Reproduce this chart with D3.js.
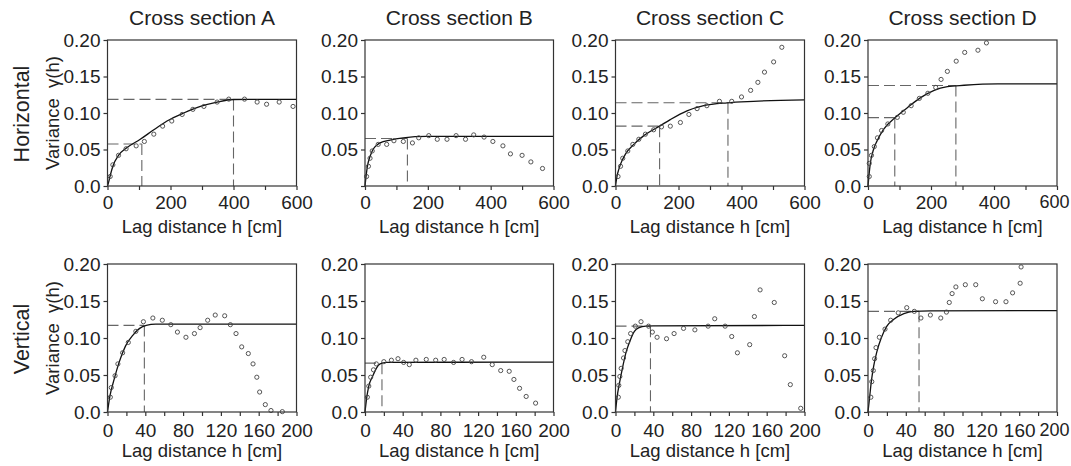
<!DOCTYPE html>
<html><head><meta charset="utf-8">
<script src="https://cdn.jsdelivr.net/npm/d3@7"></script>
<style>
html,body{margin:0;padding:0;background:#fff;}
svg{display:block;font-family:"Liberation Sans",Arial,sans-serif;}
</style></head>
<body>
<svg id="chart" width="1071" height="466"></svg>
<script>
// ---------- DATA ----------
const columnTitles = ["Cross section A","Cross section B","Cross section C","Cross section D"];
const rowLabels = ["Horizontal","Vertical"];
const yAxisTitle = "Variance\u00A0 \u03B3(h)";
const xAxisTitle = "Lag distance h [cm]";

const hTicks = [0,100,200,300,400,500,600];
const hTickLabels = [0,200,400,600];
const vTicks = [0,20,40,60,80,100,120,140,160,180,200];
const vTickLabels = [0,40,80,120,160,200];
const yTicks = [0,0.05,0.10,0.15,0.20];
const yTickLabels = ["0.0","0.05","0.10","0.15","0.20"];
const yTickLabelsNoZero = ["","0.05","0.10","0.15","0.20"];

// Horizontal row: experimental points [lag, gamma]
const hA_pts = [[8.5,0.013],[17,0.029],[35,0.042],[59,0.051],[91,0.055],[117,0.061],[147,0.071],[175,0.082],[204,0.089],[237,0.098],[271,0.105],[306,0.109],[348,0.115],[385,0.119],[435,0.119],[475,0.115],[505,0.112],[545,0.115],[589,0.109]];
const hB_pts = [[5,0.013],[11,0.027],[16,0.038],[23,0.048],[42,0.057],[69,0.057],[92,0.062],[122,0.061],[151,0.059],[171,0.066],[203,0.069],[230,0.064],[261,0.064],[290,0.069],[320,0.064],[346,0.070],[379,0.067],[407,0.061],[439,0.055],[463,0.044],[500,0.042],[528,0.033],[565,0.024]];
const hC_pts = [[8,0.013],[16,0.027],[23,0.038],[39,0.048],[55,0.057],[74,0.064],[95,0.071],[121,0.077],[146,0.081],[174,0.082],[206,0.087],[233,0.098],[259,0.106],[290,0.110],[330,0.116],[369,0.116],[400,0.122],[429,0.131],[452,0.142],[473,0.156],[502,0.170],[528,0.190]];
const hD_pts = [[4,0.013],[4,0.031],[11,0.042],[20,0.054],[30,0.066],[43,0.076],[63,0.085],[93,0.094],[112,0.101],[137,0.110],[163,0.120],[190,0.127],[215,0.135],[232,0.146],[252,0.157],[280,0.171],[307,0.183],[349,0.186],[376,0.196]];

// Horizontal row: fitted model [lag, gamma]
const hA_model = [[0,0],[4,0.006],[8.5,0.014],[17,0.027],[35,0.042],[60,0.052],[104,0.064],[147,0.077],[189,0.089],[242,0.100],[295,0.109],[348,0.115],[400,0.1185],[450,0.1186],[600,0.1186]];
const hB_model = [[0,0],[2,0.008],[5,0.019],[9,0.030],[14,0.038],[20,0.045],[27,0.051],[38,0.056],[48,0.059],[80,0.063],[122,0.066],[196,0.068],[600,0.068]];
const hC_model = [[0,0],[2,0.006],[5,0.014],[10,0.022],[16,0.030],[32,0.044],[58,0.057],[90,0.069],[140,0.082],[174,0.091],[227,0.103],[280,0.110],[354,0.114],[438,0.116],[600,0.118]];
const hD_model = [[0,0],[1.5,0.007],[3,0.014],[7,0.030],[16,0.048],[29,0.062],[50,0.078],[87,0.094],[124,0.107],[167,0.121],[210,0.131],[252,0.136],[305,0.138],[412,0.140],[600,0.140]];

// Horizontal row: range / sill guides [range, sill]
const hA_guides = [[109,0.0575],[400,0.1186]];
const hB_guides = [[135,0.065]];
const hC_guides = [[140,0.082],[357,0.114]];
const hD_guides = [[85,0.0937],[279,0.1376]];

// Vertical row: experimental points
const vA_pts = [[3,0.020],[4,0.033],[8,0.049],[11,0.065],[16,0.080],[22,0.094],[30,0.109],[38,0.122],[48,0.127],[58,0.124],[67,0.118],[74,0.108],[83,0.101],[92,0.106],[98,0.114],[106,0.124],[114,0.131],[124,0.130],[130,0.118],[136,0.106],[142,0.088],[149,0.079],[154,0.065],[158,0.047],[161,0.027],[167,0.010],[173,0.002],[185,0.0005]];
const vB_pts = [[2.5,0.020],[4,0.035],[6,0.047],[9,0.057],[12,0.065],[20,0.068],[28,0.070],[35,0.072],[41,0.067],[47,0.064],[54,0.070],[65,0.071],[75,0.070],[84,0.071],[94,0.067],[103,0.071],[113,0.068],[126,0.074],[135,0.064],[144,0.056],[153,0.055],[158,0.044],[164,0.032],[171,0.021],[181,0.012]];
const vC_pts = [[3,0.020],[3.5,0.036],[4.6,0.048],[6,0.059],[8.5,0.073],[10,0.083],[13,0.095],[16,0.106],[21,0.116],[27,0.122],[35,0.116],[39,0.108],[44,0.101],[54,0.099],[62,0.106],[72,0.113],[84,0.111],[98,0.116],[105,0.126],[116,0.116],[123,0.102],[129,0.080],[142,0.091],[147,0.129],[153,0.165],[168,0.148],[179,0.076],[185,0.037],[196,0.005]];
const vD_pts = [[3,0.020],[4,0.041],[5.6,0.056],[7,0.072],[8.5,0.087],[12,0.101],[18,0.112],[24,0.124],[32,0.134],[41,0.141],[49,0.136],[56,0.127],[66,0.131],[77,0.127],[83,0.135],[86,0.148],[89,0.160],[93,0.169],[103,0.172],[114,0.172],[121,0.153],[135,0.149],[146,0.149],[153,0.161],[161,0.174],[162,0.196]];

// Vertical row: fitted model
const vA_model = [[0,0],[2.5,0.021],[7,0.044],[12,0.066],[19,0.089],[27,0.104],[34,0.113],[41,0.117],[51,0.1187],[200,0.1187]];
const vB_model = [[0,0],[1.8,0.019],[4,0.035],[8,0.048],[12,0.059],[16,0.065],[23,0.067],[200,0.0674]];
const vC_model = [[0,0],[1.8,0.021],[4.2,0.039],[7.8,0.062],[11,0.080],[15,0.095],[20,0.109],[25,0.114],[32,0.116],[40,0.1164],[200,0.117]];
const vD_model = [[0,0],[1.8,0.021],[3.5,0.041],[6,0.062],[9.5,0.082],[14,0.100],[20,0.116],[27,0.125],[38,0.133],[48,0.136],[66,0.1366],[200,0.137]];

// Vertical row: range / sill guides
const vA_guides = [[39,0.117]];
const vB_guides = [[18,0.066]];
const vC_guides = [[37,0.116]];
const vD_guides = [[54,0.136]];

// ---------- LAYOUT ----------
const colX = [[107.5,296.5],[365,553.5],[615.5,804.5],[868,1057]];
const rowY = [[40,186],[264,412]];
const rowTickPad = [5.5,7.5];
const rowTitleBase = [233,457];

const panels = [
  {r:0,c:0,pts:hA_pts,model:hA_model,guides:hA_guides},
  {r:0,c:1,pts:hB_pts,model:hB_model,guides:hB_guides,noZero:true},
  {r:0,c:2,pts:hC_pts,model:hC_model,guides:hC_guides},
  {r:0,c:3,pts:hD_pts,model:hD_model,guides:hD_guides},
  {r:1,c:0,pts:vA_pts,model:vA_model,guides:vA_guides},
  {r:1,c:1,pts:vB_pts,model:vB_model,guides:vB_guides},
  {r:1,c:2,pts:vC_pts,model:vC_model,guides:vC_guides},
  {r:1,c:3,pts:vD_pts,model:vD_model,guides:vD_guides}
];

const svg = d3.select("#chart");
const txt = "#222";
const axisCol = "#333";

panels.forEach(p => {
  const [x0,x1] = colX[p.c], [y0,y1] = rowY[p.r];
  const xMax = p.r===0 ? 600 : 200;
  const x = d3.scaleLinear().domain([0,xMax]).range([x0,x1]);
  const y = d3.scaleLinear().domain([0,0.2]).range([y1,y0]);
  const g = svg.append("g");

  // guides (dashed)
  p.guides.forEach(([rng,sill]) => {
    g.append("line").attr("x1",x(0)).attr("x2",x(rng)).attr("y1",y(sill)).attr("y2",y(sill))
      .attr("stroke","#666").attr("stroke-width",1.1).attr("stroke-dasharray","11,5");
    g.append("line").attr("x1",x(rng)).attr("x2",x(rng)).attr("y1",y(sill)).attr("y2",y(0))
      .attr("stroke","#666").attr("stroke-width",1.1).attr("stroke-dasharray","11,5");
  });

  // model curve
  const line = d3.line().x(d=>x(d[0])).y(d=>y(d[1])).curve(d3.curveMonotoneX);
  g.append("path").datum(p.model).attr("d",line).attr("fill","none")
    .attr("stroke","#111").attr("stroke-width",1.3);

  // points
  g.selectAll("circle.pt").data(p.pts).enter().append("circle").attr("class","pt")
    .attr("cx",d=>x(d[0])).attr("cy",d=>y(d[1])).attr("r",2.1)
    .attr("fill","none").attr("stroke","#444").attr("stroke-width",0.9);

  // frame
  g.append("rect").attr("x",x0).attr("y",y0).attr("width",x1-x0).attr("height",y1-y0)
    .attr("fill","none").attr("stroke",axisCol).attr("stroke-width",1.2);

  // axes
  const ticks = p.r===0 ? hTicks : vTicks;
  const labs = p.r===0 ? hTickLabels : vTickLabels;
  const xa = d3.axisBottom(x).tickValues(ticks).tickSize(4).tickPadding(rowTickPad[p.r])
    .tickFormat(d => labs.includes(d) ? String(d) : "");
  const gx = g.append("g").attr("transform",`translate(0,${y1})`).call(xa);
  const yl = p.noZero ? yTickLabelsNoZero : yTickLabels;
  const ya = d3.axisLeft(y).tickValues(yTicks).tickSize(4).tickPadding(3)
    .tickFormat((d,i) => yl[i]);
  const gy = g.append("g").attr("transform",`translate(${x0},0)`).call(ya);
  [gx,gy].forEach(a => {
    a.select(".domain").remove();
    a.selectAll(".tick line").attr("stroke",axisCol).attr("stroke-width",1.2);
    a.selectAll(".tick text").attr("fill",txt).style("font-size","19px")
      .style("font-family","'Liberation Sans',Arial,sans-serif");
  });
  // last label of the rightmost column kept inside the picture
  if (p.c===3) {
    gx.selectAll(".tick text").filter(d => d===xMax)
      .attr("text-anchor","end").attr("dx","12").style("font-size","18px");
  }

  // x axis title
  g.append("text").attr("x",(x0+x1)/2).attr("y",rowTitleBase[p.r]).attr("text-anchor","middle")
    .attr("fill",txt).style("font-size","18.5px").text(xAxisTitle);

  // column titles
  if (p.r===0) {
    g.append("text").attr("x",(x0+x1)/2).attr("y",25).attr("text-anchor","middle")
      .attr("fill",txt).style("font-size","21px").text(columnTitles[p.c]);
  }
  // row labels and y axis title
  if (p.c===0) {
    const cy = (y0+y1)/2;
    svg.append("text").attr("transform",`translate(29,${cy+1}) rotate(-90)`)
      .attr("text-anchor","middle").attr("fill",txt).style("font-size","21.5px").text(rowLabels[p.r]);
    svg.append("text").attr("transform",`translate(58.5,${cy}) rotate(-90)`)
      .attr("text-anchor","middle").attr("fill",txt).style("font-size","18.5px").text(yAxisTitle);
  }
});
</script>
</body></html>
